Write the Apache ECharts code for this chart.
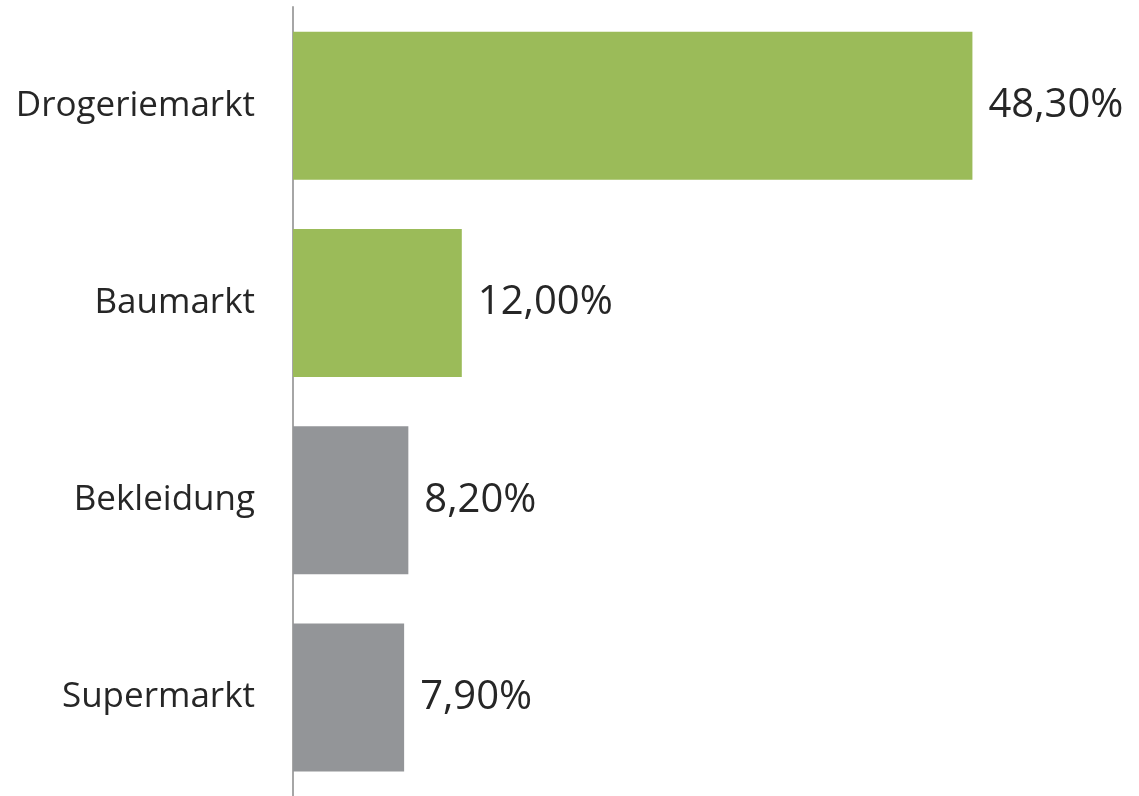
<!DOCTYPE html>
<html>
<head>
<meta charset="utf-8">
<script src="https://cdn.jsdelivr.net/npm/echarts@6/dist/echarts.min.js"></script>
<style>
    html, body { margin: 0; padding: 0; background: #fff; }
    #chart { width: 1139px; height: 796px; }
</style>
</head>
<body>
<div id="chart"></div>
<script>
// categories from top to bottom
const categories = ['Drogeriemarkt', 'Baumarkt', 'Bekleidung', 'Supermarkt'];
const shares = [48.3, 12.0, 8.2, 7.9];
const barColors = ['#9BBB59', '#9BBB59', '#939598', '#939598'];

const chartDom = document.getElementById('chart');
const myChart = echarts.init(chartDom);

const option = {
    animation: false,
    grid: {
        left: 293,
        top: 7,
        width: 844,
        height: 796,
        containLabel: false,
    },
    xAxis: {
        type: 'value',
        min: 0,
        max: 60,
        show: false,
    },
    yAxis: {
        type: 'category',
        inverse: true,
        data: categories,
        axisLine: {
            show: true,
            lineStyle: { color: '#A6A6A6', width: 2 },
        },
        axisTick: { show: false },
        axisLabel: {
            margin: 38,
            fontFamily: 'Open Sans',
            fontSize: 35,
            color: '#262626',
        },
    },
    series: [{
        type: 'bar',
        barWidth: 148,
        data: shares.map((v, i) => ({
            value: v,
            itemStyle: { color: barColors[i] },
        })),
        label: {
            show: true,
            position: 'right',
            distance: 16,
            fontFamily: 'Open Sans',
            fontSize: 40,
            color: '#262626',
            formatter: p => p.value.toFixed(2).replace('.', ',') + '%',
        },
    }],
};
myChart.setOption(option);
</script>
</body>
</html>
